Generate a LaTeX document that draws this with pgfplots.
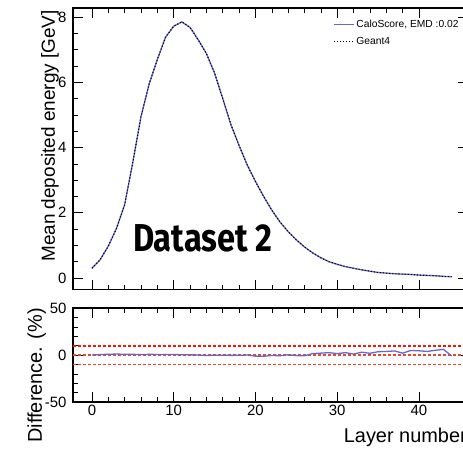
\documentclass[border=0pt]{standalone}
\usepackage{fontspec}
\setmainfont{Liberation Sans}
\newfontfamily\dsfont[FakeStretch=0.84]{Fira Sans}
\usepackage{pgfplots}
\pgfplotsset{compat=1.18}

\definecolor{csblue}{RGB}{102,102,204}
\definecolor{refred}{RGB}{230,70,45}

\pgfplotstableread{
x y
0 0.30
1 0.56
2 0.98
3 1.52
4 2.25
5 3.55
6 4.95
7 5.95
8 6.70
9 7.38
10 7.72
11 7.85
12 7.68
13 7.30
14 6.88
15 6.28
16 5.50
17 4.70
18 4.06
19 3.46
20 2.96
21 2.50
22 2.08
23 1.72
24 1.42
25 1.17
26 0.95
27 0.77
28 0.62
29 0.50
30 0.42
31 0.35
32 0.30
33 0.25
34 0.21
35 0.17
36 0.15
37 0.13
38 0.12
39 0.11
40 0.09
41 0.08
42 0.07
43 0.05
44 0.04
}\geant

\pgfplotstableread{
x y
0 0.0
1 0.5
2 0.8
3 1.0
4 0.8
5 0.7
6 0.5
7 0.7
8 0.6
9 0.5
10 0.5
11 0.3
12 0.2
13 0.0
14 -0.5
15 -0.3
16 -0.2
17 -0.4
18 -0.3
19 0.0
20 -1.2
21 -1.3
22 -0.5
23 -0.8
24 0.2
25 -0.6
26 -0.8
27 1.5
28 2.0
29 2.5
30 1.5
31 2.5
32 1.0
33 3.0
34 1.8
35 3.5
36 3.8
37 4.3
38 2.0
39 4.8
40 4.5
41 3.8
42 5.0
43 6.0
44 -1.0
}\diff

\pgfplotstableread{
x lo mid hi
-2.32 -10 0 10
46 -10 0 10
}\refl

\pgfplotsset{
 rootstyle/.style={
  scale only axis,
  width=395bp,
  xmin=-2.32, xmax=46,
  xtick={0,10,20,30,40},
  minor x tick num=4,
  major tick length=10bp,
  minor tick length=5bp,
  tick style={black, line width=0.6bp},
  axis line style={line width=1.2bp},
  tick label style={font=\fontsize{15}{18}\selectfont},
  /pgf/number format/assume math mode=true,
  yticklabel style={xshift=-3bp},
 }
}

\begin{document}
\begin{tikzpicture}
\begin{axis}[rootstyle,
  at={(73bp,-8bp)}, anchor=north west,
  height=281.5bp,
  ymin=-0.352, ymax=8.276,
  ytick={0,2,4,6,8},
  minor y tick num=3,
  xticklabels={},
  ylabel={Mean deposited energy [GeV]},
  ylabel style={at={(axis description cs:-0.0456,0.993)}, anchor=base east, inner sep=0pt, font=\fontsize{19}{22}\selectfont},
  legend style={draw=none, fill=none, at={(axis description cs:0.658,0.965)}, anchor=north west,
    font=\fontsize{10.3}{12}\selectfont, inner sep=0pt, row sep=4bp},
  legend cell align=left,
  legend image code/.code={\draw[#1] (0bp,0bp) -- (17bp,0bp); \path (0bp,0bp) -- (20bp,0bp);},
]
\addplot[csblue, line width=1.3bp] table[x=x,y=y] {\geant};
\addlegendentry{CaloScore, EMD :0.02}
\addplot[black, dotted, line width=1.1bp] table[x=x,y=y] {\geant};
\addlegendentry{Geant4}
\node[anchor=base west, inner sep=0pt, font={\fontsize{39}{44}\selectfont\dsfont\bfseries}] at (axis cs:5.0,0.8) {Dataset 2};
\end{axis}

\begin{axis}[rootstyle,
  at={(73bp,-308bp)}, anchor=north west,
  height=94bp,
  ymin=-50, ymax=50,
  ytick={-50,0,50},
  minor y tick num=4,
  xlabel={Layer number},
  xlabel style={at={(axis description cs:1,0)}, anchor=base east, inner sep=0pt, xshift=-1bp, yshift=-40bp, font=\fontsize{20}{24}\selectfont},
  ylabel={Difference. (\%)},
  ylabel style={at={(axis description cs:-0.0785,1)}, anchor=base east, inner sep=0pt, font=\fontsize{20}{24}\selectfont},
]
\addplot[color=refred, line width=1.4bp, dash pattern=on 3bp off 2bp] table[x=x,y=lo] {\refl};
\addplot[draw=red!85!orange, line width=1.8bp, dash pattern=on 3bp off 2bp] table[x=x,y=hi] {\refl};
\addplot[color=refred, line width=1.2bp, dash pattern=on 3bp off 2bp] table[x=x,y=mid] {\refl};
\addplot[csblue, line width=1.3bp] table[x=x,y=y] {\diff};
\end{axis}
\pgfresetboundingbox
\path[use as bounding box] (0,0) rectangle (463bp,-449bp);
\end{tikzpicture}
\end{document}
